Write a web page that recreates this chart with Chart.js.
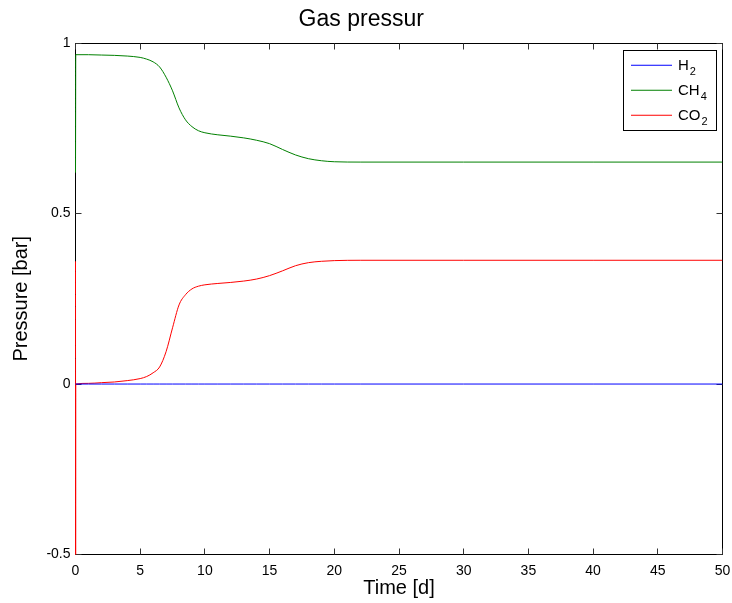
<!DOCTYPE html>
<html>
<head>
<meta charset="utf-8">
<script src="https://cdn.jsdelivr.net/npm/chart.js@4.4.1/dist/chart.umd.min.js"></script>
<style>
  body { margin: 0; background: #fff; }
  #wrap { width: 732px; height: 603px; }
</style>
</head>
<body>
<div id="wrap"><canvas id="chart" width="732" height="603"></canvas></div>
<script>
// time in days
const time = [0, 0.01, 0.02, 1, 2, 3, 4, 5, 5.5, 6, 6.5, 7, 7.5, 8, 8.5, 9, 9.5, 10,
    11, 12, 13, 14, 15, 16, 17, 18, 19, 20, 22, 25, 30, 40, 50];
const h2 = [0, 0, 0, 0, 0, 0, 0, 0, 0, 0, 0, 0, 0, 0, 0, 0, 0, 0,
    0, 0, 0, 0, 0, 0, 0, 0, 0, 0, 0, 0, 0, 0, 0];
const ch4 = [0.62, 0.80, 0.966, 0.966, 0.965, 0.964, 0.962, 0.958, 0.953, 0.945, 0.93, 0.90, 0.86, 0.81, 0.775, 0.755, 0.743, 0.737,
    0.731, 0.727, 0.722, 0.715, 0.705, 0.688, 0.672, 0.661, 0.655, 0.652, 0.651, 0.651, 0.651, 0.651, 0.651];
const co2 = [0.36, -0.6, 0.0, 0.002, 0.004, 0.006, 0.01, 0.016, 0.022, 0.033, 0.05, 0.095, 0.165, 0.232, 0.262, 0.279, 0.287, 0.291,
    0.295, 0.298, 0.302, 0.308, 0.318, 0.332, 0.347, 0.356, 0.36, 0.362, 0.363, 0.363, 0.363, 0.363, 0.363];
const labels = ["H_2", "CH_4", "CO_2"];
const colors = ["#0000ff", "#008000", "#ff0000"];
const xTicks = [0, 5, 10, 15, 20, 25, 30, 35, 40, 45, 50];
const yTicks = [-0.5, 0, 0.5, 1];

const FONT = "'Liberation Sans', Arial, Helvetica, sans-serif";

function pts(arr) {
    return time.map((t, i) => ({ x: t, y: arr[i] }));
}

// box around the axes with ticks pointing inwards (matlab style)
const boxPlugin = {
    id: "box",
    beforeDatasetsDraw(chart) {
        let a = chart.chartArea, ctx = chart.ctx;
        let xs = chart.scales.x, ys = chart.scales.y;
        let l = Math.floor(a.left) + 0.5, r = Math.floor(a.right) + 0.5;
        let t = Math.floor(a.top) + 0.5, b = Math.floor(a.bottom) + 0.5;
        ctx.save();
        ctx.strokeStyle = "#000";
        ctx.lineWidth = 1;
        ctx.strokeRect(l, t, r - l, b - t);
        ctx.strokeStyle = "#333";
        ctx.beginPath();
        xTicks.forEach(v => {
            let px = Math.floor(xs.getPixelForValue(v)) + 0.5;
            ctx.moveTo(px, b); ctx.lineTo(px, b - 6);
            ctx.moveTo(px, t); ctx.lineTo(px, t + 6);
        });
        yTicks.forEach(v => {
            let py = Math.floor(ys.getPixelForValue(v)) + 0.5;
            ctx.moveTo(l, py); ctx.lineTo(l + 6, py);
            ctx.moveTo(r, py); ctx.lineTo(r - 6, py);
        });
        ctx.stroke();
        ctx.restore();
    }
};

// legend with subscripts
const legendPlugin = {
    id: "subLegend",
    afterDraw(chart) {
        let a = chart.chartArea, ctx = chart.ctx;
        let bx = Math.floor(a.right) - 99, by = Math.floor(a.top) + 7, bw = 93, bh = 80;
        ctx.save();
        ctx.fillStyle = "#fff";
        ctx.fillRect(bx, by, bw, bh);
        ctx.strokeStyle = "#000";
        ctx.lineWidth = 1;
        ctx.strokeRect(bx + 0.5, by + 0.5, bw, bh);
        chart.data.datasets.forEach((ds, i) => {
            let y = by + 15 + i * 25;
            ctx.strokeStyle = ds.borderColor;
            ctx.beginPath();
            ctx.moveTo(bx + 8, y + 0.25); ctx.lineTo(bx + 49, y + 0.25);
            ctx.stroke();
            let parts = ds.label.split("_");
            ctx.fillStyle = "#000";
            ctx.textBaseline = "alphabetic";
            ctx.font = "15px " + FONT;
            ctx.fillText(parts[0], bx + 55, y + 5);
            let w = ctx.measureText(parts[0]).width;
            ctx.font = "11px " + FONT;
            ctx.fillText(parts[1], bx + 55 + w + 1, y + 10);
        });
        ctx.restore();
    }
};

new Chart(document.getElementById("chart"), {
    type: "line",
    data: {
        datasets: labels.map((l, i) => ({
            label: l,
            data: pts([h2, ch4, co2][i]),
            borderColor: colors[i],
            backgroundColor: colors[i],
            borderWidth: 1,
            pointRadius: 0,
            cubicInterpolationMode: "monotone",
            clip: { left: 1, top: 0, right: 0, bottom: 0 },
            fill: false
        }))
    },
    options: {
        responsive: false,
        animation: false,
        layout: { padding: { left: 0, right: 9.5, top: 0, bottom: 0 } },
        plugins: {
            legend: { display: false },
            tooltip: { enabled: false },
            title: {
                display: true,
                text: "Gas pressur",
                color: "#000",
                font: { family: FONT, size: 23, weight: "normal" },
                padding: { top: 6, bottom: 9.5 }
            }
        },
        scales: {
            x: {
                type: "linear",
                min: 0, max: 50,
                afterFit: s => { s.height = 48.5; s.paddingRight = 0; s.paddingLeft = 0; },
                afterBuildTicks: s => { s.ticks = xTicks.map(v => ({ value: v })); },
                grid: { display: false, drawTicks: false },
                border: { display: false },
                ticks: { color: "#000", font: { family: FONT, size: 14 }, padding: 8, maxRotation: 0 },
                title: { display: true, text: "Time [d]", color: "#000",
                    font: { family: FONT, size: 20 }, padding: { top: 0, bottom: 3 } }
            },
            y: {
                min: -0.5, max: 1,
                afterFit: s => { s.width = 75.5; },
                afterBuildTicks: s => { s.ticks = yTicks.map(v => ({ value: v })); },
                grid: { display: false, drawTicks: false },
                border: { display: false },
                ticks: { color: "#000", font: { family: FONT, size: 14 }, padding: 5,
                    callback: v => String(v) },
                title: { display: true, text: "Pressure [bar]", color: "#000",
                    font: { family: FONT, size: 20 }, padding: { top: 9, bottom: 0 } }
            }
        }
    },
    plugins: [boxPlugin, legendPlugin]
});
</script>
</body>
</html>
